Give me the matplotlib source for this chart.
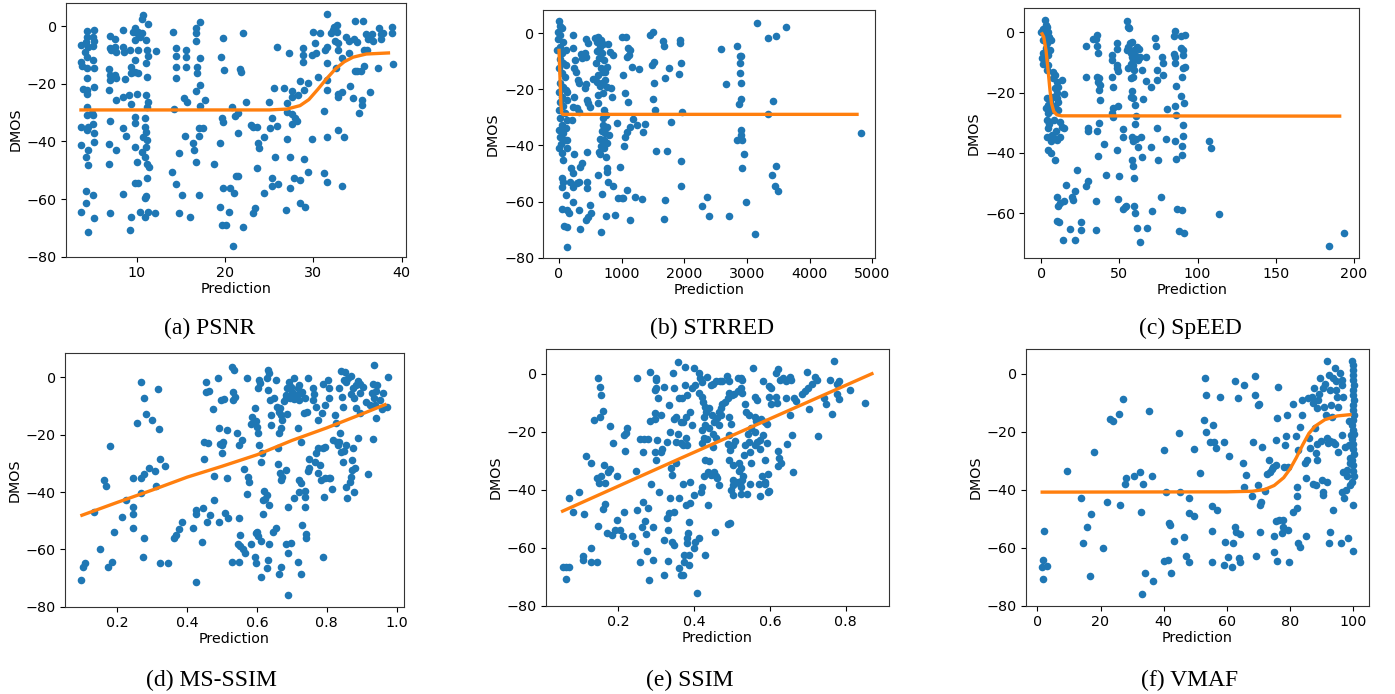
import matplotlib
matplotlib.use('Agg')
import matplotlib.pyplot as plt

# ---------------- data ----------------
psnr_points = [
(3.7,-6.6),(3.7,-12.4),(3.8,-13.9),(3.9,-22),(3.7,-35),(3.7,-41.3),(3.7,-64.6),
(4.4,-1.7),(4.4,-3.7),(4.3,-5.4),(4.5,-7.2),(4.2,-8.9),(4.4,-10.9),(4.4,-14.7),(4.4,-17.9),(4.4,-22.2),(4.4,-23.4),(4.4,-28.2),(4.4,-30.9),(4.5,-35),(4.4,-36),(4.5,-43),(4.3,-45.3),(4.5,-48.2),(4.3,-57.1),(4.3,-61.3),(4.5,-71.6),
(5.2,-1.4),(5.0,-3.7),(5.1,-6.9),(5.2,-5.2),(5.0,-11.8),(5.2,-14.7),(5.2,-21.3),(5.0,-30.9),(5.1,-34.1),(5.2,-37.2),(5.2,-40.1),(5.0,-58.6),(5.2,-66.7),(4.9,-30.3),
(7.0,-3.5),(7.0,-7.7),(7.1,-8.3),(6.9,-15),(7.0,-17),(7.0,-18.7),(6.9,-22.2),(7.0,-32.8),(6.9,-40.9),(6.9,-48),(7.0,-65),
(7.5,-4.6),(7.5,-7.2),(7.7,-8.9),(7.7,-18.1),(7.7,-25.7),(7.7,-43),(7.5,-17),
(8.4,-1.4),(8.4,-7.2),(8.6,-8.9),(8.7,-18.3),(8.4,-24.5),(8.4,-35.5),(8.8,-38.2),(8.4,-58.4),
(9.2,-8.3),(9.3,-14.1),(9.3,-16.4),(9.1,-23.9),(9.4,-27.1),(9.2,-70.8),(9.3,-66.3),
(9.8,-0.8),(10.0,-2.5),(9.6,-2),(10.2,-2),(10.4,-3.7),(10.6,-2.5),(10.7,3.8),(10.6,2.3),(11.3,0.6),(9.8,-4.9),(11.1,-4.9),(10.1,-8.3),(11.2,-8.3),(11.3,-10.4),(11.1,-12.7),(9.8,-11.8),(9.8,-15.8),(9.6,-15.8),(12.2,-8.7),(11.2,-17.6),(11.1,-23.9),(11.3,-26.2),(11.2,-28),(10.0,-23.6),(9.8,-31.4),(9.8,-33.5),(10.9,-32),(10.9,-35),(11.0,-36.6),(10.7,-38.4),(11.2,-39.5),(9.8,-41.8),(11.1,-41.8),(10.6,-43.6),(10.9,-45.3),(10.0,-47.3),(11.2,-48),(11.4,-48.8),(11.2,-52.8),(9.8,-54.3),(10.1,-54.3),(10.9,-59.8),(11.1,-59),(10.4,-64.4),(10.9,-66.1),(11.3,-64.4),(12.1,-65),(10.1,-16.4),
(14.1,-2),(14.5,-7.7),(14.5,-10.3),(14.4,-14.1),(14.5,-18.1),(14.2,-28.6),(14.0,-50.5),(14.4,-54.9),(14.8,-44.2),(15.1,-58.6),(14.8,-65),(15.5,-38.2),(15.6,-8.3),(15.6,-10.6),(15.6,-14.1),(15.4,-25.1),(15.7,-26.2),(16.0,-66.3),
(16.7,-0.8),(16.7,-2.3),(16.7,-5.2),(16.8,-14.1),(16.8,-16.4),(16.7,-22.4),(17.2,-20.5),(17.2,-11.2),(17.2,1.5),(17.7,-25.7),(17.2,-27.7),(17.1,-35.5),(17.5,-35.5),(17.1,-38.2),(16.4,-40.7),(16.5,-43),(16.7,-47.3),(17.1,-58.6),(18.7,-48),
(19.8,-4.3),(19.6,-10.6),(19.9,-15.3),(19.7,-32),(19.8,-33.2),(19.4,-40.7),(19.8,-56.3),(19.4,-62.7),(19.7,-69),
(20.1,-69),(20.4,-64.6),(20.6,-56.3),(20.8,-28.2),(21.1,-31.2),(21.0,-57.8),(21.5,-30.3),(21.5,-37.2),(21.3,-52),(21.5,-51.9),(21.7,-15),(21.8,-15.8),(22.0,-2.5),(22.0,-69.6),(20.9,-76.2),(22.4,-26.2),(22.9,-34.3),(23.2,-34.9),(23.6,-34.9),(23.7,-40.5),(23.9,-42.4),(23.6,-49.1),(23.4,-63),(23.2,-65),(24.4,-38.4),(24.4,-57.8),(24.95,-26.4),(25.1,-35.5),(25.3,-32),(25.3,-52.6),(25.3,-55.4),(25.6,-21.6),(25.7,-45.5),(25.9,-34.7),(25.9,-7.4),(26.0,-54.9),(26.7,-21.6),(26.9,-63.8),(27.0,-39.3),(27.0,-26.6),(27.0,-29.7),(27.2,-9.2),(27.4,-45.3),(27.4,-56.3),(27.6,-22.4),(27.6,-24.5),(27.6,-30.6),(27.6,-33.8),(27.8,-52.8),(27.9,-32),(28.1,-32.8),(28.3,-23.9),(28.5,-19.1),(28.5,-53.4),(28.5,-61.5),(28.8,-7.7),(28.8,-10.1),(28.8,-12.4),(28.9,-46.2),(29.0,-22.2),(29.1,-62.9),(29.4,-19.9),(29.4,-50.5),(29.9,-39.3),(29.9,-10.1),(30.0,-2),(30.2,-6),(30.3,-9.5),(30.5,-17.8),(30.8,-2.5),(31.2,-50.9),(31.2,-29.4),(31.3,-8.3),(31.5,-7.2),(31.6,4.2),(31.5,-12.9),(31.6,-38.4),(31.6,-54.2),(31.5,-18.7),(31.6,-22.2),(32.0,-2.5),(32.2,-1.4),(32.4,-0.2),(32.7,0.3),(32.5,-5.2),(32.8,-6),(32.8,-8.3),(32.8,-24.5),(32.8,-36),(32.7,-2),(33.3,-11.2),(33.3,-55.4),(32.6,-14.7),(32.8,-23.4),(33.3,-22.8),(33.5,-38.4),(34.1,-5.2),(34.0,-9.5),(34.2,-20.8),(34.5,-25.1),(34.7,1.8),(34.6,-4.6),(35.0,-5.4),(34.7,-15.6),(35.0,-15.6),(35.2,-30.1),(35.4,-15.6),(35.6,1.8),(35.7,-13.9),(35.5,-25.7),(35.5,-27.4),(35.7,-8.3),(36.0,-2.9),(36.2,-4.6),(36.4,-23),(36.6,-2.9),(36.8,-5.2),(37.3,-14.7),(37.4,-0.8),(37.7,-2.9),(37.9,-2.5),(37.7,-4.6),(38.9,-0.5),(38.9,-2.5),(39.0,-13.3),(36.1,-8.3),(33.7,-3.9),
]
psnr_fit = [(3.5,-29.1),(25,-29.1),(27,-28.8),(28.5,-27.6),(29.5,-25.5),(30.5,-22),(31.5,-18.3),(32.5,-14.9),(33.5,-12.4),(34.5,-10.8),(36,-9.7),(38.7,-9.3)]

strred_points = [
(5,4.5),(16,2.6),(42,1.8),(-10,0.6),(16,-0.6),(-10,-2.1),(58,-3),(16,-4.8),(-26,-5.9),(42,-7.1),(16,-9.3),(69,-10.7),(5,-12.5),(42,-14),(96,-15.7),(16,-17.8),(69,-19.3),(5,-20.8),(112,-20.2),(42,-22.6),(16,-24.4),(69,-25.9),(5,-27.3),(96,-28.5),(16,-30.3),(122,-30.9),(42,-32.7),(5,-34.5),(69,-35.4),(16,-36.9),(96,-38),(32,-39.5),(5,-41),(42,-42.6),(58,-45.2),(42,-51.5),(58,-52.9),(42,-54.7),(42,-62.8),(80,-68.7),(133,-69),(133,-76.1),(112,-57.7),(122,-41),(133,-38),(112,-33.9),(122,-20.8),(133,-23.8),(112,-5.9),(112,-11.3),(133,-63),(165,-64.2),(202,-30.9),(176,-52.9),(229,-60),
(218,-0.6),(218,-5.4),(255,-9.5),(239,-12.2),(271,-13.7),(298,-16.6),(325,-17.8),(245,-22.6),(218,-26.2),(282,-26.8),(325,-27.9),(245,-43),(192,-48.2),(218,-49.9),(229,-54.7),(282,-53.3),(319,-52.9),(325,-63),(335,-69.9),(362,-46.4),(351,-7.5),(362,-8.9),(431,-8.3),(415,-7.1),(335,-47.6),
(457,-3.6),(431,-2.1),(431,-18.2),(442,-23.8),(468,-25),(495,-26.4),(415,-19.6),(442,-42.2),(442,-52.9),(452,-55.1),(431,-66.6),(468,-65.4),(505,-64.2),(495,-61.2),(537,-16.4),(575,-1.8),
(628,-1.2),(601,-3),(670,-2.4),(654,-4.8),(708,-3.8),(612,-6.2),(681,-6.9),(644,-8.9),(590,-10.7),(718,-9.5),(665,-12.5),(697,-13.7),(628,-14.9),(734,-13.7),(771,-11.9),(612,-17.2),(681,-17.6),(734,-16.6),(654,-18.8),(761,-19.3),(825,-19.6),(628,-22),(697,-21.4),(628,-25),(718,-27.3),(697,-30.3),(750,-29.1),(708,-32.7),(761,-33.3),(681,-34.8),(734,-35.7),(803,-36.3),(654,-37.8),(718,-38),(761,-39.2),(665,-40.2),(639,-42.2),(718,-41),(750,-44.2),(761,-48.2),(761,-49.3),(654,-43),(628,-50.5),(777,-52.9),(681,-57.3),(750,-65.2),(670,-71),
(787,-3.8),(814,-6.5),(840,-22.6),(856,-7.7),(867,-54.5),(894,-64.8),(920,-31.9),(947,-58.6),(973,-47.8),(1000,-58.6),(1027,-58.6),(1037,-40.2),(1053,-36.9),(1000,-1.4),(1069,-1.4),(1016,-14.9),(1053,-21.2),(1107,-24.4),(1080,-35.1),(1080,-55.9),(1107,-5.4),(1133,-5.9),(1122,-7.7),(1080,-8.3),(1160,-11.9),(1133,-66.6),(1133,-33.3),(1176,-30.7),(1213,-58.3),(1240,-32.7),(1282,-12.8),(1319,-59.2),(1346,-35.1),(1373,-32.5),(1452,-0.6),(1495,0.6),(1479,-11.3),(1516,-10.1),(1495,-23.5),(1516,-17.6),(1532,-27.3),(1548,-41.9),(1665,-2.6),(1676,-4.5),(1692,-16.1),(1718,-41.9),(1692,-59.5),(1676,-66.3),(1761,-12.5),(1788,-31.5),(1920,-14.5),(1931,-3.6),(1947,-10.5),(1947,-45.4),(1947,-54.3),(1958,-27.9),(1931,-2.4),
(2279,-61.5),(2358,-58.5),(2395,-65.2),(2584,-5.7),(2658,-18.2),(2716,-65.2),(2847,-4.5),(2884,-8),(2910,-8.1),(2884,-10.7),(2884,-14),(2900,-17.8),(2910,-23.4),(2874,-25.3),(2900,-34.5),(2910,-36.3),(2847,-38),(2921,-38),(2947,-43),(2921,-48.2),(2979,-60),(3121,-71.6),(3163,3.8),(3331,-1.8),(3463,-0.8),(3621,2.4),(3410,-24),(3331,-28.9),(3463,-47.2),(3400,-50.5),(3452,-54.3),(3500,-56.1),(4815,-35.7),
]
strred_fit = [(0,-5.5),(15,-15),(30,-25),(42,-28.3),(60,-28.9),(4780,-28.9)]

speed_points = [
(0,0),(2.3,4.1),(3,2.4),(1.3,1),(3.8,1.7),(4.5,0.2),(2.3,-0.9),(5.1,-1.4),(1.3,-2.5),(6,-2.5),(3.8,-3.6),(3,-5.3),(5.5,-5.9),(0.9,-7),(4.5,-7.5),(0.2,-8.6),(2.3,-9.2),(1.3,-10.6),(4.5,-10.8),(3.4,-12.5),(7.7,-13),(8.7,-14.1),(7.7,-15.2),(9.8,-16.4),(13,-15.8),(10.9,-18),(8.7,-18.6),(9.8,-20.2),(14.5,-20.6),(7.2,-21.3),(3.4,-21.9),(9.8,-21.9),(5.5,-23),(10.9,-23),(4.5,-24.1),(8.7,-24.6),(3,-25.2),(6.6,-25.7),(10.9,-25.7),(4.5,-26.9),(3.4,-29.1),(8.3,-29.1),(11.9,-29.6),(5.1,-30.4),(13,-31.3),(14.5,-31.8),(4.5,-31.8),(9.4,-32.9),(6.6,-34),(3.4,-34.6),(8.1,-35.1),(11.9,-34.6),(9.8,-35.7),(6,-36.2),(4.5,-39),(6,-40.1),(8.7,-42.3),
(9.8,-54.5),(10.9,-57.8),(11.9,-56.5),(14.5,-56.1),(9.8,-62.5),(11.5,-63.1),(14.1,-68.8),(18.3,-65.3),(15.8,-50.6),(19.4,-54.5),(20.5,-55.6),(21.5,-52.5),(22.6,-45.6),(21.5,-68.8),(25.2,-65.5),(25.2,-63.1),(28.6,-4.5),(28.9,-14.9),(28.9,-50.9),(29.9,-49.2),(29.9,-31.6),(29.9,-32.9),
(33.3,-2.3),(35,-2.3),(35.8,-0.9),(35.4,-4.5),(36.5,-6.7),(35.8,-14.7),(37.1,-15.2),(36.5,-16.4),(37.5,-17.5),(37.1,-19.1),(37.5,-22.4),(35.4,-32.9),(37.1,-30.2),(35,-56.1),(35,-65.5),(36.5,-41),(40.1,-37.1),(41.4,-47.2),
(45,-7.5),(45,-9.2),(45,-14.7),(45.6,-18.2),(45.6,-25.2),(45,-26.9),(46.1,-28),(48.2,-3.6),(48.2,-5.6),(48.6,-10.8),(48.2,-11.9),(49.3,-12.7),(48.6,-39),(49.3,-24.4),(49.3,-55.4),(49.8,-47.8),(52,-32.2),(52,-34.8),(52.5,-58.7),(53.5,-58),(54,-57.6),
(54.6,3.9),(55.7,1.9),(55.7,-4.8),(54.6,-5.9),(56.7,-3.6),(57.1,-7),(57.8,-8.1),(56.3,1.3),(57.8,-3.1),(57.1,-10.5),(55.7,-11.9),(57.1,-15.2),(58.8,-9.2),(58.4,-10.8),(59.3,-5.9),(59.9,-7.5),(59.3,-12.5),(58.8,-14.9),(57.8,-19.3),(57.1,-21.3),(58.8,-21.9),(59.9,-24.1),(60.6,-27.7),(59.9,-30.4),(57.8,-34.6),(58.8,-35.9),(60.6,-35.5),(57.8,-42.3),(58.4,-44.2),(59.3,-48.2),(59.3,-57.6),(59.9,-59.8),(61,-65),(62,-37.9),(63.5,-34.6),(64.2,-41.4),(63.1,-69.7),(62.7,-5.6),(63.1,-8.3),(64.2,-12.5),(64.8,-22.2),(61,-4.8),(62,-9),(67,-8.1),(67,-16),(67.4,-65),
(70.1,-18.2),(70.1,-37.9),(70.6,-59.3),(72.7,-2),(73.3,-4.5),(73.8,-12.5),(73.8,-15.8),(73.8,-31.8),(74.8,-42.3),(77,-8.1),(78,-10.3),(78,-14.1),(76.3,-54.7),(80.2,-25.5),(79.7,-35.5),
(85.5,0.6),(84.9,-1.2),(89.5,-1.2),(91.9,-0.7),(89.1,-5.3),(90.8,-5.9),(84.9,-7.2),(85.5,-8.3),(85.5,-10.1),(90.8,-7.5),(90.8,-11.9),(91.9,-11.4),(89.8,-14.9),(86.1,-17.8),(89.1,-21.1),(85.5,-24.4),(91.5,-23.5),(86.1,-27.4),(90.8,-30.7),(90.8,-34.4),(85.5,-35.9),(89.8,-37.7),(90.2,-40.7),(86.1,-42.1),(107.5,-36),(108.3,-38.5),(86.6,-58.7),(90.2,-58.9),(113.9,-60.2),(88.3,-66.1),(91.5,-66.6),(184.2,-71),(193.6,-66.6),
]
speed_fit = [(0,0),(1.5,-1.5),(3,-6),(4.5,-13.5),(5.5,-19),(6.5,-23.5),(8,-26.3),(10,-27.4),(13,-27.7),(192,-27.8)]

msssim_points = [
(0.096,-70.7),(0.101,-66),(0.108,-64.9),(0.132,-46.9),(0.149,-59.9),(0.162,-35.8),(0.168,-37.8),(0.172,-66),(0.184,-64.3),(0.179,-23.8),(0.189,-54.1),(0.212,-48.6),(0.225,-42.8),(0.245,-45.1),(0.245,-47.8),(0.244,-52.4),(0.244,-35.2),(0.255,-16),(0.269,-1.5),(0.267,-35.2),(0.269,-40.5),(0.276,-33.8),(0.276,-7.3),(0.276,-55.9),(0.274,-62.8),(0.283,-12.9),(0.291,-31.7),(0.298,-14.9),(0.307,-32.7),(0.31,-37.8),(0.317,-4.2),(0.319,-18.1),(0.323,-28.5),(0.323,-64.9),(0.336,-30.9),(0.345,-64.9),(0.361,-55.9),(0.369,-55),(0.376,-52.9),(0.386,-50.3),(0.416,-52.7),(0.424,-47.8),(0.426,-46.3),(0.426,-71.3),(0.443,-57.6),(0.446,-45.5),(0.449,-28.6),(0.449,-22.4),(0.454,-1.5),(0.454,-5.2),(0.459,-23),(0.457,-50.6),(0.462,-4.7),(0.465,-48),(0.473,-11.2),(0.478,-34.3),(0.478,-42.8),(0.487,-0.3),(0.49,-17.6),(0.49,-50.3),(0.494,-23.4),(0.497,-7.9),(0.5,-23.6),(0.503,-22.4),(0.506,-7.7),(0.509,-47.4),(0.513,-18.4),(0.513,-35.2),(0.516,-49.2),(0.5,-26.5),
(0.528,3.7),(0.535,2.6),(0.571,-0.1),(0.531,-5),(0.537,-6.7),(0.531,-7.9),(0.542,-19.5),(0.549,-23.6),(0.557,-21.9),(0.564,-32),(0.574,-34.7),(0.578,-36.6),(0.571,-40.7),(0.584,-16.3),(0.586,-13.7),(0.593,-10.8),(0.605,-0.9),(0.608,-2.1),(0.603,-3.8),(0.597,-15.2),(0.6,-17.2),(0.603,-19.5),(0.607,-23.6),(0.61,-29.4),(0.614,-26.5),(0.619,-39.7),(0.617,-42.8),(0.624,-42.4),(0.629,-41),(0.634,-44.5),(0.629,-0.3),(0.634,1.4),(0.632,2.6),(0.632,-4.4),(0.636,-7.9),(0.639,-13.1),(0.641,-16.6),(0.648,-7.3),(0.653,-0.9),(0.658,-10.2),(0.663,-12),(0.666,-10.8),(0.668,-13.1),(0.672,-14.9),(0.67,-17.8),(0.663,-19.5),(0.661,-24.5),(0.661,-30.3),(0.666,-33.5),(0.672,-34.7),(0.668,-35.8),(0.682,-32.3),(0.687,-3.8),(0.684,-7.3),(0.692,-1.5),(0.696,-3.3),(0.701,-5),(0.706,-0.3),(0.711,-6.2),(0.716,-3.8),(0.721,-2.7),(0.719,-7.9),(0.725,-5.6),(0.73,-5),(0.738,-7.3),(0.745,-0.3),(0.677,-8.3),(0.682,-6.2),(0.694,-7.3),(0.706,-7.6),(0.687,-12.9),(0.716,-17.6),(0.725,-22.4),(0.721,-35.8),(0.725,-37),(0.719,-39.9),(0.706,-42),(0.738,-39.7),(0.738,-41.6),(0.738,-45.1),(0.735,-12.6),(0.742,-12),(0.749,-31.5),(0.745,-32.7),(0.749,-28.3),
(0.759,-3.8),(0.764,-5.9),(0.759,-7.9),(0.769,-10.2),(0.774,-14.9),(0.774,-24.8),(0.769,-26.5),(0.767,-29.4),(0.774,-33.5),(0.78,-30.6),(0.786,-12.6),(0.788,-2.4),(0.796,-9.7),(0.803,-0.9),(0.805,-3.8),(0.807,-7.1),(0.79,-24.5),(0.796,-24.2),(0.783,-35.8),(0.796,-35.2),(0.805,-35.2),(0.81,-35),(0.793,-41.6),(0.815,-39),(0.822,-13.1),(0.827,-16),(0.819,-21.9),(0.829,-22.6),(0.831,-23.6),(0.836,-3.8),(0.844,-6.7),(0.846,-10.2),(0.841,2.2),(0.851,2),(0.848,-0.9),(0.855,-1.5),(0.86,-0.1),(0.87,0.6),(0.838,-19.5),(0.834,-22.6),(0.841,-25.9),(0.846,-29.4),(0.848,-25.7),(0.855,-23.6),(0.855,-38.1),(0.857,-42),(0.867,-36.4),(0.87,-34.7),(0.873,-28.8),(0.873,-32.3),(0.879,-39.9),(0.882,-31.7),(0.874,-24.8),(0.87,-5.9),(0.877,-7.1),(0.874,-3.8),(0.884,-2.7),(0.889,-1.3),(0.894,-2.4),(0.904,-3.3),(0.896,-5.6),(0.884,-10.8),(0.894,-12.6),(0.889,-21.3),(0.918,-33.8),(0.935,4.3),(0.933,-2.4),(0.944,-2.7),(0.94,-4.8),(0.928,-5.6),(0.935,-7.3),(0.923,-9.7),(0.938,-9.7),(0.94,-14.1),(0.933,-21.6),(0.952,-7.9),(0.96,-5.6),(0.976,0),(0.973,-10.2),(0.913,-8.5),(0.957,-11),
(0.552,-55),(0.552,-58.7),(0.549,-49),(0.545,-58.1),(0.559,-59.7),(0.566,-61.4),(0.528,-64.3),(0.549,-64.3),(0.584,-58.3),(0.596,-54.4),(0.6,-53.8),(0.603,-55.2),(0.593,-62.6),(0.597,-64.9),(0.61,-57.1),(0.61,-69.5),(0.632,-63.7),(0.629,-66.4),(0.634,-58.3),(0.645,-54.1),(0.653,-52.7),(0.663,-68.7),(0.67,-66),(0.682,-58.3),(0.69,-61.4),(0.696,-57.9),(0.69,-75.9),(0.716,-64.3),(0.725,-68.7),(0.73,-51.5),(0.739,-54.8),(0.741,-56.2),(0.79,-62.6),(0.689,-45.1),(0.616,-47.8),
]
msssim_fit = [(0.094,-48.3),(0.2,-43.6),(0.3,-39.3),(0.4,-34.8),(0.5,-31),(0.6,-27),(0.7,-22),(0.8,-17.6),(0.9,-12.8),(0.971,-9.3)]

ssim_points = [
(0.055,-66.5),(0.064,-66.5),(0.07,-66.5),(0.064,-70.8),(0.07,-42.7),(0.081,-47.8),(0.097,-40.6),(0.111,-48.4),(0.107,-63),(0.107,-64.2),(0.116,-28.2),(0.128,-30.8),(0.128,-65),(0.144,-65),(0.128,-60),(0.137,-15.9),(0.144,-35.8),(0.147,-1.5),(0.153,-4.4),(0.154,-7.2),(0.153,-14.7),(0.161,-12.8),(0.146,-52.5),(0.15,-37.7),(0.154,-35.1),(0.163,-31.6),(0.165,-37.7),(0.165,-45),(0.161,-46.7),(0.17,-55),(0.174,-33.7),(0.18,-32.8),(0.178,-18),(0.184,-55.6),(0.187,-23.7),(0.193,-53.9),(0.197,-35.1),(0.197,-50.4),(0.204,-53.9),(0.213,-55.8),(0.217,-47.5),(0.217,-21.1),(0.223,-18.8),(0.222,-20.3),(0.219,-26.6),(0.236,-55.8),(0.245,-58.5),(0.247,-33.5),(0.249,-1.3),(0.251,-47),(0.258,-22.4),(0.258,-65),(0.262,-53),(0.265,-26.8),(0.266,-44.1),(0.271,-50.7),(0.273,-55.4),(0.268,-22.4),(0.279,-46.4),(0.277,-61.1),(0.279,-22.4),(0.282,-71.1),(0.285,0.6),(0.285,-16.2),(0.288,-38.1),(0.291,-52.7),(0.291,-64.2),(0.297,-13.6),(0.297,-15.5),(0.297,-27),(0.301,-29.7),(0.299,-1.3),(0.301,-2.1),(0.297,-5.5),(0.301,-4.9),(0.305,-8.4),(0.303,-22.8),(0.309,-40.6),(0.314,-14.2),(0.314,-26.8),(0.316,-25.9),(0.321,-57.3),(0.322,-69.4),(0.322,-4.4),(0.328,-23.4),(0.328,-49.8),(0.331,-64.6),(0.331,-53.9),(0.334,-48.1),(0.335,-10.7),(0.337,-20.1),(0.337,-42.9),(0.34,-32.6),(0.342,-34.9),(0.342,-57.9),(0.344,0.2),(0.347,-4.7),(0.347,-15.5),(0.348,-47.5),(0.348,-59),(0.353,-23.4),(0.353,-14.7),(0.354,-30.8),(0.359,4),(0.359,-20.8),(0.361,-8.4),(0.361,-42.9),(0.366,-16.5),(0.366,-23.9),(0.368,-8.4),(0.37,-38.1),(0.372,-16.7),(0.374,-62.5),(0.361,-67.1),(0.366,-69.4),(0.372,-69.4),(0.374,-64.8),(0.372,-24.7),(0.377,2.5),(0.377,-3.8),(0.383,-7.2),(0.38,-14.7),(0.38,-22),(0.383,-24.7),(0.378,-45.2),(0.383,-56.7),(0.383,-58.5),(0.385,-55),(0.387,-51),(0.387,-62.5),(0.387,-65.9),(0.389,-37.2),(0.389,-44.6),(0.391,-13),(0.394,-17.6),(0.396,-4.9),(0.4,2.2),(0.4,-60),(0.403,-57.9),(0.404,-3.8),(0.409,-75.7),
(0.413,0.2),(0.415,-1.5),(0.422,-2.9),(0.435,-0.9),(0.413,-6.7),(0.422,-7.8),(0.424,-9.6),(0.429,-11.3),(0.444,-3.8),(0.449,-3.6),(0.458,-2.4),(0.468,-2.6),(0.473,-2.4),(0.488,-0.7),(0.493,-2.4),(0.515,-1.3),(0.524,-1.5),(0.528,-2.1),(0.555,2.2),(0.581,-2.4),(0.597,-4),(0.604,-4.9),(0.617,0.2),(0.621,1.7),(0.626,-2.1),(0.634,-1.5),(0.642,-2.4),(0.652,-0.9),(0.657,-2.1),(0.699,0.8),(0.719,-0.9),(0.723,-2.1),(0.712,-3.6),(0.701,-4.7),(0.692,-5.9),(0.686,-7),(0.769,4.5),(0.758,-2.1),(0.783,-2.4),(0.776,-3.6),(0.81,-5.5),(0.776,-7),(0.783,-8.6),(0.742,-8.4),(0.748,-10.5),(0.765,-13.9),(0.851,-10.1),(0.727,-21.3),(0.704,-12.1),(0.668,-9.3),(0.665,-8.2),(0.643,-8.4),(0.652,-14.2),(0.659,-21.1),(0.661,-33.9),(0.645,-24.3),(0.63,-30.8),(0.624,-28.9),(0.621,-26.6),(0.621,-31.9),(0.619,-10.1),(0.617,-7.8),(0.597,-7.8),(0.604,-10.5),(0.592,-17.4),(0.588,-16.5),(0.592,-23.9),(0.595,-34.6),(0.599,-40.4),(0.586,-38.1),(0.573,-42.3),(0.58,-35.4),(0.573,-25.8),(0.565,-23.6),(0.562,-19.9),(0.564,-16.2),(0.562,-14.7),(0.565,-9),(0.562,-7.8),(0.55,-30.8),(0.548,-27),(0.546,-23.6),(0.542,-20.8),(0.544,-14.2),(0.537,-13),(0.535,-10.5),(0.528,-6.7),(0.524,-4.9),(0.515,-5.9),(0.506,-7),(0.5,-7.2),(0.493,-6.7),(0.491,-8.4),(0.493,-14.7),(0.497,-17.4),(0.493,-21.1),(0.491,-24.3),(0.494,-26.2),(0.493,-29.7),(0.502,-31.4),(0.519,-30.8),(0.524,-32.6),(0.519,-33.5),(0.53,-35.4),(0.528,-36.6),(0.502,-36.6),(0.504,-38.3),(0.497,-40),(0.504,-41.8),(0.515,-37.2),(0.521,-38.1),(0.524,-39.2),(0.524,-41.5),(0.509,-23.1),(0.502,-24.5),(0.482,-9.6),(0.475,-10.5),(0.471,-11.6),(0.465,-13),(0.471,-14.2),(0.462,-15.3),(0.466,-17.6),(0.453,-16.5),(0.447,-14.2),(0.44,-11.6),(0.431,-13),(0.427,-14.7),(0.429,-17.6),(0.44,-18.5),(0.427,-22.2),(0.435,-22.4),(0.422,-19.3),(0.42,-23.9),(0.449,-20.8),(0.458,-22),(0.449,-25.1),(0.44,-30),(0.444,-34.9),(0.438,-33.7),(0.453,-33.7),(0.427,-35.4),(0.429,-29.7),(0.458,-35.4),(0.466,-38.3),(0.462,-36),(0.422,-39.2),(0.418,-40.6),(0.4,-41.8),(0.438,-45.2),(0.456,-54.7),(0.491,-51.9),(0.494,-51.6),(0.413,-56.5),(0.429,-62.5),(0.535,-24.7),(0.55,-18.8),(0.573,-22.8),(0.581,-21.1),(0.577,-15.5),(0.586,-29.7),(0.588,-37.2),(0.595,-40.6),(0.539,-41.5),(0.548,-38.1),(0.533,-28),(0.562,-24.5),(0.571,-38.1),
]
ssim_fit = [(0.05,-47.6),(0.36,-29.4),(0.873,0.3)]

vmaf_points = [
(1.4,-66.5),(1.7,-64.2),(1.9,-70.8),(2.1,-54.2),(3,-66.2),(9.5,-33.5),(13.8,-42.7),(14.4,-58.5),(15.7,-52.7),(16.7,-69.6),(16.9,-48.4),(17.8,-27),(20.7,-60),(22.2,-44.1),(23.1,-15.7),(24.1,-16.2),(25.7,-13.9),(26.2,-45.2),(27.1,-8.6),(27.8,-38.1),(28.1,-36),(30.7,-35.4),(32.4,-33.9),(32.8,-47.8),(33.1,-76.1),(33.4,-38.1),(34.2,-68.8),(35.2,-12.8),(36.3,-35.4),(36.6,-71.5),(40,-26.2),(40.2,-64.6),(40.8,-40.6),(41.3,-64.2),(41.6,-51.6),(42.1,-52.2),(42.3,-68.8),(43.2,-57.7),(44.8,-20.5),(45.1,-40.6),(46.3,-56.2),(47.2,-62.7),(47.9,-42.7),(47.9,-48.1),(47.9,-65),
(49.7,-48.9),(51.4,-34.3),(49.5,-25.9),(53.2,-1.5),(53.5,-7.2),(57.7,-7.8),(52.8,-15.9),(53.5,-20.1),(55.6,-17.6),(54.7,-23.4),(56,-23.6),(56.6,-25.5),(59.2,-23.6),(60.8,-28.5),(55.3,-45.5),(56.8,-46.9),(55.3,-54.2),(55.3,-65),(59.5,-57.9),(59,-65.9),(60.5,-63.1),(61.6,-66.5),(61.9,-58.5),(62.6,-52.7),(62.9,-54.4),(64.2,-55.3),(63.7,-63.6),(64.2,-64.8),(62.6,-2.4),(63.4,-8.2),(65.3,-3.8),(65.1,-30.8),(66.1,-34.9),(65.3,-39.2),(67.9,-42.3),(68.4,-23.4),(68.9,-0.6),(68.9,-7.2),(69.7,-10.9),(70.3,-10.5),(69.3,-62.7),(70,-38.3),(70.5,-45.2),(70.7,-44.1),(71.1,-25.1),(70.5,-54.4),(72.1,-40.4),(73.2,-29.7),(72.8,-34.6),(73.5,-33.7),(74.2,-32.8),(74.7,-32),(75.6,-31.6),(76.3,-4.4),(76,-15.1),(75.6,-22.8),(75.6,-50.7),(74.9,-55.8),(76,-64.6),(74.9,-61.3),(76.6,-50.3),(77.7,-50.3),(77.9,-52.7),(79.2,-53.9),(77.4,-55),(78.4,-24.5),(78.1,-32),(78.9,-14.2),(78.7,-21.3),(79.5,-32),(79.8,-65),
(80.8,-10.5),(80.8,-47.5),(82.1,-38.9),(82.3,-42),(81.9,-21.3),(82.3,-46.4),(82.6,-58.5),(83.2,-59.6),(82.6,-26.2),(83.2,-18.2),(83.7,-14.2),(83.7,-9),(84.7,-30.8),(85.3,-29.7),(85.1,-35.8),(85.1,-55.8),(85.8,-8.4),(86.8,-7.8),(86.1,-22),(86.3,-25.7),(87.2,-38.1),(87.6,-4.9),(87.4,-10.1),(87.9,-18.8),(88.4,-11.9),(88.4,-24.3),(88.2,-27.4),(88.4,-29.7),(88.2,-38.3),(88.9,-9),(89.3,-7),(89.5,-1.5),(89.7,-23.1),(90,-36.6),(90.3,-40.6),(90.5,-41.8),(90.5,-4.9),(91.1,-3.6),(90.7,-11.3),(91.4,-14.2),(91.6,4.5),(91.6,-22.2),(92.1,-23.9),(91.8,-37.2),(92.4,-0.3),(92.6,-5.5),(92.9,-10.7),(93.2,-14.7),(92.8,-23.1),(93.7,-23.4),(94.2,-24.2),(92.8,-54.7),(92.4,-58.5),(93.7,-47),(94.2,2.2),(94.5,-2.6),(94.7,-5.5),(94.9,-7.8),(95.3,-11.3),(95.3,-26.8),(93.5,-1.5),(95.8,0.2),(96.3,-2.1),(96.6,-3.8),(96.8,-7.8),(96,-58.5),(96.3,-40.6),(96.6,-21.1),(96.8,-33.7),(97.1,-42.9),(97.4,-25.1),(97.7,-40),(97.9,-35.4),(97.9,-33.1),(98.4,-56.7),(98.7,-16.2),(98.7,-24.5),(98.9,-29.1),(98.9,-38.3),
(99.5,4.5),(99.8,3.1),(100,1.4),(100,-0.3),(99.8,-2.1),(100.2,-3.8),(100,-5.5),(99.8,-7.2),(100.2,-9),(100,-10.7),(99.8,-12.4),(100.2,-14.2),(100,-15.9),(99.5,-17.6),(99.8,-19.3),(100.2,-20.8),(99.5,-22.4),(100,-24.3),(99.8,-25.9),(100.2,-27.7),(99.5,-29.7),(100,-31.4),(99.8,-33.5),(100.2,-35.4),(99.5,-37.2),(100,-45.2),(100,-61.1),(98.9,-30.8),(99.2,-21.1),
]
vmaf_fit = [(1,-40.8),(60,-40.7),(68,-40.5),(72,-39.9),(75,-38.5),(78,-35.8),(80,-32.8),(82,-28.9),(84,-24.5),(86,-20.5),(88,-18),(91,-15.8),(95,-14.5),(99.5,-14)]

captions = ['(a) PSNR', '(b) STRRED', '(c) SpEED', '(d) MS-SSIM', '(e) SSIM', '(f) VMAF']

# ---------------- layout ----------------
W, H = 1395, 694
fig = plt.figure(figsize=(W / 100, H / 100), dpi=100)

def add_ax(l, r, t, b):
    return fig.add_axes([l / W, 1 - b / H, (r - l) / W, (b - t) / H])

panels = [
    dict(box=(65.7, 406, 2.7, 256.7), pts=psnr_points, fit=psnr_fit,
         xlim=(1.96, 40.5), ylim=(-80, 8.1), xt=[10, 20, 30, 40], yt=[-80, -60, -40, -20, 0],
         cap=(210, 328)),
    dict(box=(543.3, 875, 10, 257.7), pts=strred_points, fit=strred_fit,
         xlim=(-250, 5040), ylim=(-80, 8.3), xt=[0, 1000, 2000, 3000, 4000, 5000], yt=[-80, -60, -40, -20, 0],
         cap=(712, 328)),
    dict(box=(1024.3, 1359.3, 8.3, 258.3), pts=speed_points, fit=speed_fit,
         xlim=(-10.9, 203.5), ylim=(-75, 8), xt=[0, 50, 100, 150, 200], yt=[-60, -40, -20, 0],
         cap=(1190, 328)),
    dict(box=(65, 404, 353.3, 606.7), pts=msssim_points, fit=msssim_fit,
         xlim=(0.05, 1.021), ylim=(-80, 8.4), xt=[0.2, 0.4, 0.6, 0.8, 1.0], yt=[-80, -60, -40, -20, 0],
         cap=(211, 680)),
    dict(box=(545.7, 889, 349, 605.7), pts=ssim_points, fit=ssim_fit,
         xlim=(0.0095, 0.914), ylim=(-80, 8.6), xt=[0.2, 0.4, 0.6, 0.8], yt=[-80, -60, -40, -20, 0],
         cap=(690, 680)),
    dict(box=(1025.7, 1369.3, 349, 605.7), pts=vmaf_points, fit=vmaf_fit,
         xlim=(-3.7, 105.1), ylim=(-80, 8.6), xt=[0, 20, 40, 60, 80, 100], yt=[-80, -60, -40, -20, 0],
         cap=(1190, 680)),
]

FS = 10.3
for p, cap in zip(panels, captions):
    ax = add_ax(*p['box'])
    xs = [a for a, b in p['pts']]
    ys = [b for a, b in p['pts']]
    ax.scatter(xs, ys, s=30, color='#1f77b4', linewidths=0, zorder=2)
    fx = [a for a, b in p['fit']]
    fy = [b for a, b in p['fit']]
    ax.plot(fx, fy, color='#ff7f0e', lw=2.4, zorder=3, solid_capstyle='butt')
    ax.set_xlim(*p['xlim'])
    ax.set_ylim(*p['ylim'])
    ax.set_xticks(p['xt'])
    ax.set_yticks(p['yt'])
    ax.tick_params(labelsize=FS, length=3.5, width=0.8, pad=3)
    ax.set_xlabel('Prediction', fontsize=FS, labelpad=1.5)
    ax.set_ylabel('DMOS', fontsize=FS, labelpad=3)
    for s in ax.spines.values():
        s.set_linewidth(0.8)
        s.set_color('#333333')
    cx, cy = p['cap']
    fig.text(cx / W, 1 - cy / H, cap, ha='center', va='center',
             family='Liberation Serif', fontsize=17)

fig.savefig('out.png', dpi=100)
